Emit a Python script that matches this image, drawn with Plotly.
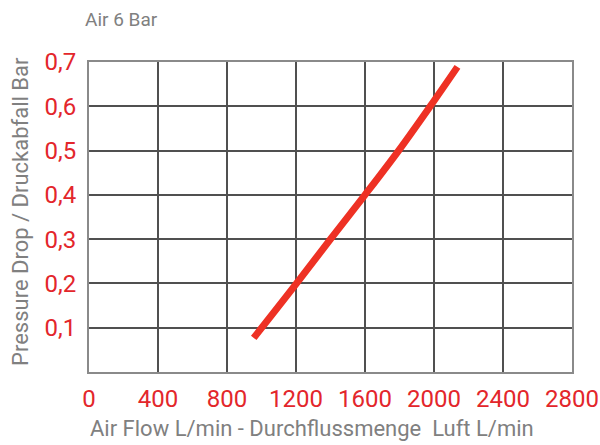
import plotly.graph_objects as go

flow = [955, 1203, 1400, 1600, 1795, 1978, 2136]
drop = [0.077, 0.2, 0.3, 0.4, 0.5, 0.6, 0.689]

x_ticks = [0, 400, 800, 1200, 1600, 2000, 2400, 2800]
x_labels = ["0", "400", "800", "1200", "1600", "2000", "2400", "2800"]
y_ticks = [0.1, 0.2, 0.3, 0.4, 0.5, 0.6, 0.7]
y_labels = ["0,1", "0,2", "0,3", "0,4", "0,5", "0,6", "0,7"]

RED = "#E3262B"
GRAY = "#808080"
GRID = "#505050"

L, R, T, B = 89, 28, 62, 73
PW, PH = 600 - L - R, 445 - T - B

fig = go.Figure()
fig.add_trace(go.Scatter(x=flow, y=drop, mode="lines",
                         line=dict(color="#EE3124", width=7, shape="spline", smoothing=1.0),
                         hoverinfo="skip", showlegend=False))

fig.update_layout(
    width=600, height=445,
    margin=dict(l=L, r=R, t=T, b=B, autoexpand=False),
    paper_bgcolor="white", plot_bgcolor="white",
    font=dict(family="Roboto, sans-serif"),
)
fig.add_annotation(text="Air 6 Bar", xref="paper", yref="paper",
                   x=(83 - L) / PW, y=1 + (T - 19) / PH,
                   xanchor="left", yanchor="middle", showarrow=False,
                   font=dict(size=19, color=GRAY, family="Roboto"))
fig.add_annotation(text="Air Flow L/min - Durchflussmenge  Luft L/min", xref="paper", yref="paper",
                   x=(88 - L) / PW, y=-(428 - (T + PH)) / PH,
                   xanchor="left", yanchor="middle", showarrow=False,
                   font=dict(size=22, color=GRAY, family="Roboto"))
fig.add_annotation(text="Pressure Drop / Druckabfall Bar", xref="paper", yref="paper",
                   x=-(L - 20) / PW, y=((T + PH) - 212) / PH, textangle=-90,
                   xanchor="center", yanchor="middle", showarrow=False,
                   font=dict(size=22, color=GRAY, family="Roboto"))

fig.update_xaxes(range=[0, 2800], tickvals=x_ticks, ticktext=x_labels,
                 showgrid=True, gridcolor=GRID, gridwidth=2,
                 showline=True, linecolor="#8a8a8a", linewidth=2, mirror=True,
                 zeroline=False, ticks="", ticklabelstandoff=4, automargin=False,
                 tickfont=dict(size=24, color=RED, family="Roboto"))
fig.update_yaxes(range=[0, 0.7], tickvals=y_ticks, ticktext=y_labels,
                 showgrid=True, gridcolor=GRID, gridwidth=2,
                 showline=True, linecolor="#8a8a8a", linewidth=2, mirror=True,
                 zeroline=False, ticks="", ticklabelstandoff=6, automargin=False,
                 tickfont=dict(size=24, color=RED, family="Roboto"))

fig.write_html("out.html", config={"displayModeBar": False},
               post_script="document.body.style.margin='0';document.body.style.overflow='hidden';")
